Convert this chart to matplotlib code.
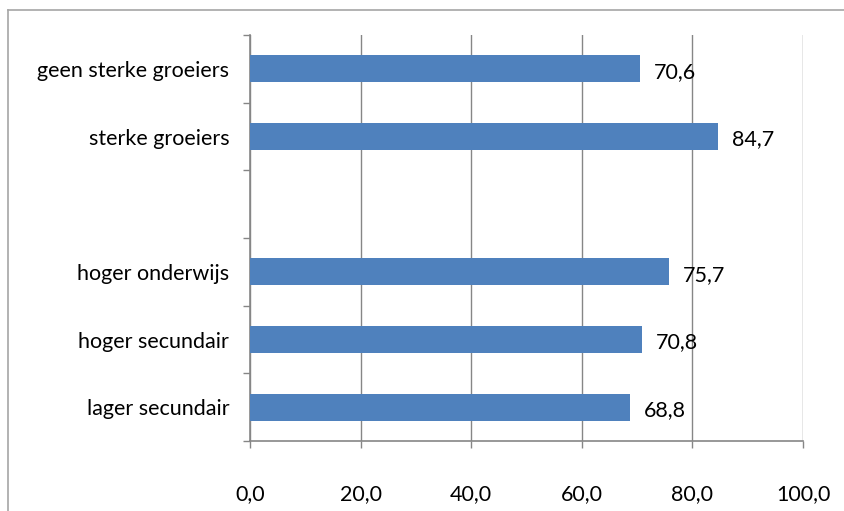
import matplotlib
matplotlib.use("Agg")
import matplotlib.pyplot as plt
from matplotlib.lines import Line2D

# categories from bottom to top; empty string = blank slot
categories = ["lager secundair", "hoger secundair", "hoger onderwijs", "",
              "sterke groeiers", "geen sterke groeiers"]
values = [68.8, 70.8, 75.7, None, 84.7, 70.6]
xticks = [0, 20, 40, 60, 80, 100]

plt.rcParams['font.family'] = ['Lato', 'DejaVu Sans']
fs = 15.5

W, H = 845, 511
fig = plt.figure(figsize=(W / 100, H / 100), dpi=100)
ax = fig.add_axes([250 / W, 1 - 441 / H, (803 - 250) / W, (441 - 35) / H])

grey = '#868686'
bar_color = '#4F81BD'

pos = [i for i, v in enumerate(values) if v is not None]
vals = [v for v in values if v is not None]
bars = ax.barh(pos, vals, height=0.4, color=bar_color, zorder=3)

for p, v in zip(pos, vals):
    ax.annotate(f"{v:.1f}".replace('.', ','), xy=(v, p), xytext=(10, -2),
                textcoords='offset points', va='center', ha='left', fontsize=fs)

ax.set_xlim(0, 100)
ax.set_ylim(-0.5, len(categories) - 0.5)
ax.set_xticks(xticks)
ax.set_xticklabels([f"{t:.1f}".replace('.', ',') for t in xticks], fontsize=fs)
ax.set_yticks(range(len(categories)))
ax.set_yticklabels(categories, fontsize=fs)
ax.set_yticks([i - 0.5 for i in range(len(categories) + 1)], minor=True)

ax.tick_params(axis='y', which='major', length=0, pad=15)
ax.tick_params(axis='y', which='minor', length=5, color=grey, width=1)
ax.tick_params(axis='x', length=5, color=grey, width=1, pad=26)

ax.grid(axis='x', color=grey, linewidth=1, zorder=0)
for s in ['top', 'right']:
    ax.spines[s].set_visible(False)
for s in ['left', 'bottom']:
    ax.spines[s].set_color(grey)
    ax.spines[s].set_linewidth(1.2)

# outer chart frame (cut off at right and bottom)
fx, fy = 8.5 / W, 1 - 10.5 / H
fig.add_artist(Line2D([fx, 1], [fy, fy], color='#a6a6a6', linewidth=1.2, transform=fig.transFigure))
fig.add_artist(Line2D([fx, fx], [0, fy], color='#a6a6a6', linewidth=1.2, transform=fig.transFigure))

fig.savefig("out.png", dpi=100)
